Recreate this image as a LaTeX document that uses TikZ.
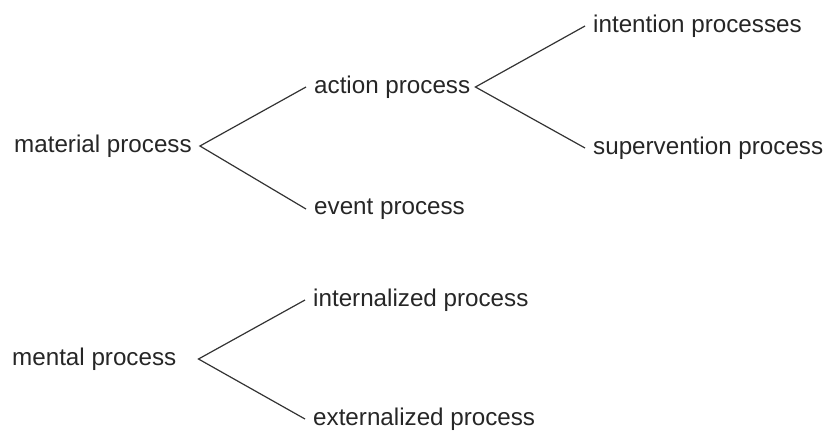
\documentclass[tikz,border=0pt]{standalone}
\usepackage{fontspec}
\setmainfont{Liberation Sans}
\begin{document}
\begin{tikzpicture}[x=1pt,y=-1pt,
  lbl/.style={anchor=west,inner ysep=0pt,inner xsep=0pt,font=\fontsize{24.2}{27}\selectfont,text=black!85},
  conn/.style={draw=black!80,line width=1.2pt}]
\useasboundingbox (0,0) rectangle (827,432);
\node[lbl] (mat) at (14,146) {material process};
\node[lbl] (act) at (314,87) {action process};
\node[lbl] (evt) at (314,209) {event process};
\node[lbl] (int) at (593,26) {intention processes};
\node[lbl] (sup) at (593,148) {supervention process};
\node[lbl] (men) at (12,359) {mental process};
\node[lbl] (inz) at (313,300) {internalized process};
\node[lbl] (ext) at (313,419) {externalized process};
\draw[conn] ([xshift=-8pt]act.west) -- ([xshift=8pt]mat.east) -- ([xshift=-8pt]evt.west);
\draw[conn] ([xshift=-8pt]int.west) -- ([xshift=5pt]act.east) -- ([xshift=-8pt]sup.west);
\draw[conn] ([xshift=-8pt]inz.west) -- ([xshift=22pt]men.east) -- ([xshift=-8pt]ext.west);
\end{tikzpicture}
\end{document}
